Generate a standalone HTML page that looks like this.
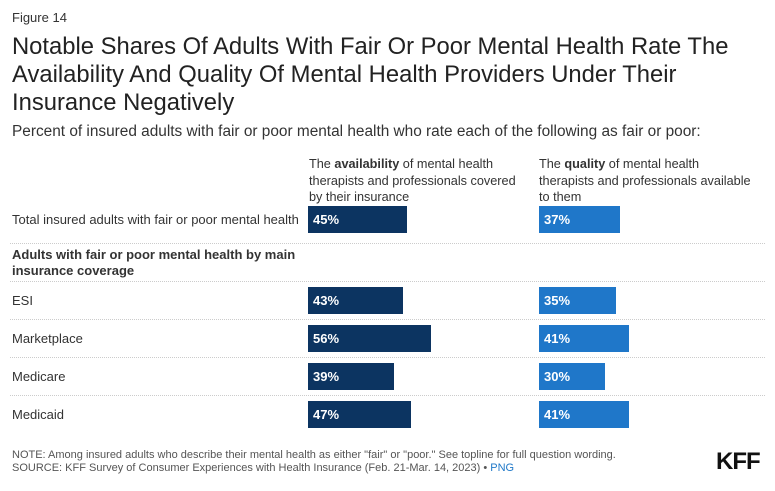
<!DOCTYPE html>
<html><head><meta charset="utf-8"><style>
body{margin:0;width:775px;height:491px;background:#fff;font-family:"Liberation Sans",Arial,sans-serif;position:relative;overflow:hidden;color:#333}
.a{position:absolute;white-space:nowrap}
.t{font-size:23.8px;color:#222;line-height:28px}
.rl{font-size:13px;color:#333}
.dot{position:absolute;left:10px;width:755px;border-top:1px dotted #ccc;height:0}
.bar{position:absolute;height:27px;color:#fff;font-size:13px;font-weight:bold;line-height:27px;padding-left:5px;box-sizing:border-box}
.hd{font-size:12.7px;line-height:16.5px;color:#333}
</style></head><body>
<div class="a" style="left:12px;top:10px;font-size:13px;color:#333">Figure 14</div>
<div class="a t" style="left:12px;top:33px">Notable Shares Of Adults With Fair Or Poor Mental Health Rate The<br>Availability And Quality Of Mental Health Providers Under Their<br>Insurance Negatively</div>
<div class="a" style="left:12px;top:123px;font-size:15.4px;color:#333">Percent of insured adults with fair or poor mental health who rate each of the following as fair or poor:</div>
<div class="a hd" style="left:309px;top:156px">The <b>availability</b> of mental health<br>therapists and professionals covered<br>by their insurance</div>
<div class="a hd" style="left:539px;top:156px">The <b>quality</b> of mental health<br>therapists and professionals available<br>to them</div>
<div class="a" style="left:12px;top:247px;font-size:13px;font-weight:bold;line-height:16px;color:#333">Adults with fair or poor mental health by main<br>insurance coverage</div>
<div id="chart"></div>
<div class="a" style="left:12px;top:449px;font-size:11px;color:#555">NOTE: Among insured adults who describe their mental health as either "fair" or "poor." See topline for full question wording.</div>
<div class="a" style="left:12px;top:462px;font-size:11px;color:#555">SOURCE: KFF Survey of Consumer Experiences with Health Insurance (Feb. 21-Mar. 14, 2023) • <span style="color:#1f78c8">PNG</span></div>
<div class="a" style="left:716px;top:448px;font-size:24px;font-weight:bold;color:#111;letter-spacing:-1px">KFF</div>
<script>
const categories=["Total insured adults with fair or poor mental health","ESI","Marketplace","Medicare","Medicaid"];
const availability=[45,43,56,39,47];
const quality=[37,35,41,30,41];
const rowTops=[206,287,325,363,401];
const c=document.getElementById('chart');
const x=v=>v*2.2;
function mk(cls,css){const d=document.createElement('div');d.className=cls;d.style.cssText=css;c.appendChild(d);return d;}
[243,281,319,357,395].forEach(y=>{const d=mk('dot','top:'+y+'px');

});
categories.forEach((cat,i)=>{
const y=rowTops[i];
const l=mk('a rl','left:12px;top:'+(y+6)+'px');l.textContent=cat;


const b1=mk('bar','left:308px;top:'+y+'px;width:'+x(availability[i])+'px;background:#0c3461');b1.textContent=availability[i]+'%';


const b2=mk('bar','left:539px;top:'+y+'px;width:'+x(quality[i])+'px;background:#1f77c9');b2.textContent=quality[i]+'%';


});
</script>
</body></html>
